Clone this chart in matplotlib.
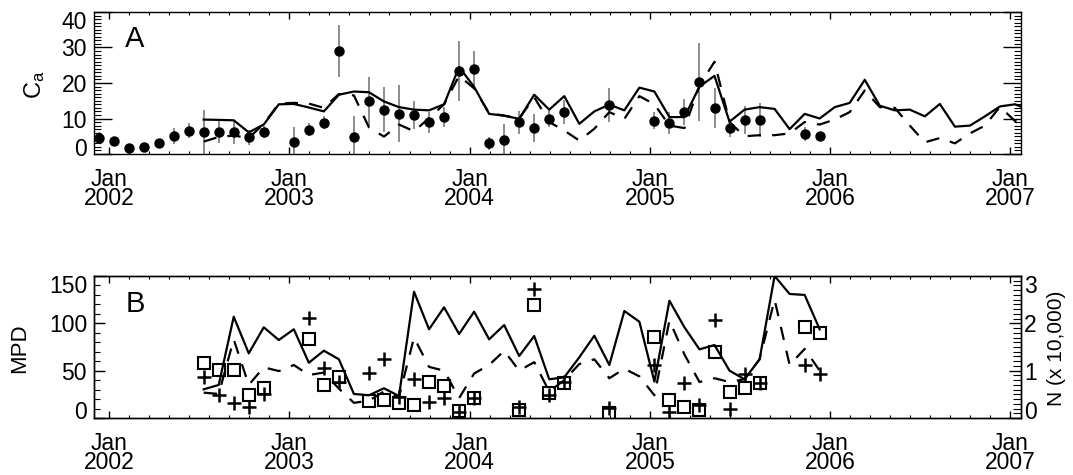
import matplotlib
matplotlib.use('Agg')
import matplotlib.pyplot as plt
from matplotlib.ticker import MultipleLocator, FixedLocator
from matplotlib.transforms import ScaledTranslation

plt.rcParams['font.family'] = ['Liberation Sans', 'DejaVu Sans']
plt.rcParams['mathtext.default'] = 'regular'

# months are counted from Jan 2002 (0 = Jan 2002)
tick_years = ['2002', '2003', '2004', '2005', '2006', '2007']

# Panel A: model curves and observed C_a
model_months = list(range(6, 62))
ca_solid = [9.7, 9.6, 9.5, 6.1, 8.3, 14.0, 14.1, 13.1, 12.0, 16.7, 17.6, 17.4, 14.8, 13.2,
            12.5, 12.3, 14.0, 24.5, 18.9, 11.3, 10.8, 9.9, 16.7, 12.5, 16.3, 8.5, 12.0, 13.9,
            12.3, 18.7, 17.6, 10.4, 10.4, 19.0, 22.0, 9.1, 12.5, 13.2, 12.7, 7.0, 11.3, 10.0,
            13.2, 14.4, 20.9, 13.6, 12.3, 12.5, 10.6, 14.1, 7.7, 8.0, 10.6, 13.4, 14.0, 12.3]
ca_dashed = [3.5, 4.8, 5.2, 4.5, 8.5, 14.2, 14.4, 14.2, 13.0, 16.9, 16.5, 7.5, 4.9, 8.3,
             6.4, 10.1, 14.0, 22.0, 18.5, 11.5, 10.8, 10.0, 16.0, 9.0, 6.6, 3.8, 7.1, 11.8,
             9.9, 16.3, 14.0, 8.0, 7.3, 19.3, 26.0, 9.0, 5.0, 5.3, 5.3, 5.8, 9.0, 8.3,
             9.7, 11.8, 17.9, 13.2, 13.0, 8.0, 3.3, 4.5, 3.0, 5.8, 8.0, 13.3, 9.3, 8.0]
obs_months = [-1, 0, 1, 2, 3, 4, 5, 6, 7, 8, 9, 10,
              12, 13, 14, 15, 16, 17, 18, 19, 20, 21, 22, 23, 24, 25, 26, 27, 28, 29, 30,
              33, 36, 37, 38, 39, 40, 41, 42, 43, 46, 47]
ca_obs = [4.5, 3.6, 1.7, 1.9, 3.2, 5.1, 6.6, 6.1, 6.3, 6.1, 4.7, 6.3,
          3.3, 6.9, 8.8, 29.0, 4.7, 14.8, 12.5, 11.4, 11.0, 8.9, 10.4, 23.3, 23.9, 3.0, 4.0,
          8.9, 7.4, 9.9, 11.8,
          13.7, 9.4, 8.8, 11.8, 20.3, 13.0, 7.3, 9.6, 9.6, 5.7, 5.2]
ca_err = [1.6, 0.5, 0, 0, 0.6, 2.3, 2.0, 6.2, 3.1, 3.3, 2.1, 1.7,
          4.2, 1.7, 1.8, 7.2, 5.9, 6.8, 6.4, 8.1, 4.0, 2.9, 2.8, 8.5, 5.2, 1.9, 4.5,
          3.3, 3.9, 2.4, 3.3,
          4.8, 2.4, 3.1, 3.6, 11.0, 5.7, 2.5, 4.0, 4.7, 2.0, 0.3]

# Panel B: MPD curves and N markers (x 10,000)
mpd_months = list(range(6, 48))
mpd_solid = [30.3, 34.9, 107, 68.3, 95.8, 82.4, 93.7, 58.4, 71.1, 62, 25.4, 24, 31.4, 23.2,
             133.4, 93.7, 116.9, 88.7, 112.3, 83.1, 98.2, 65.5, 86.6, 40.9, 43, 64.1, 86.9, 56,
             113, 101.7, 38.4, 123.9, 95.8, 72.5, 77.1, 50, 40.9, 62, 150, 131, 130, 93.7]
mpd_dashed = [26.8, 25.4, 83, 35, 53.5, 49.6, 56, 45.4, 48, 31, 16, 18.3, 28, 22.5,
              85, 54, 50, 21, 47, 56, 71, 50, 59, 28, 40, 57, 62, 42,
              52, 44, 24, 103, 67, 38, 42, 38, 41, 62, 125, 56, 73, 50]
n_months = [6, 7, 8, 9, 10, 13, 14, 15, 17, 18, 19, 20, 21, 22, 23, 24, 27, 28, 29, 30,
            33, 36, 37, 38, 39, 40, 41, 42, 43, 46, 47]
n_square = [1.16, 1.01, 1.01, 0.49, 0.63, 1.66, 0.70, 0.86, 0.35, 0.38, 0.31, 0.27, 0.77,
            0.68, 0.15, 0.42, 0.17, 2.39, 0.52, 0.73, 0.10, 1.72, 0.37, 0.23, 0.17, 1.39,
            0.54, 0.63, 0.73, 1.92, 1.80]
n_plus = [0.86, 0.49, 0.32, 0.23, 0.50, 2.11, 1.05, 0.77, 0.96, 1.24, 0.44, 0.83, 0.34,
          0.42, 0.13, 0.42, 0.24, 2.72, 0.49, 0.77, 0.22, 1.12, 0.13, 0.73, 0.27, 2.06,
          0.20, 0.94, 0.73, 1.12, 0.93]

MID = 0.3  # points sit near the middle of their month
FS = 16.5
LFS = 16


def xs(months):
    return [m + MID for m in months]


def setup_xaxis(ax):
    ax.set_xlim(-1, 60.7)
    ax.xaxis.set_major_locator(FixedLocator([12 * i for i in range(len(tick_years))]))
    ax.set_xticklabels(['Jan\n' + y for y in tick_years], fontsize=FS, linespacing=0.8)
    ax.xaxis.set_minor_locator(MultipleLocator(4 / 3))
    ax.tick_params(axis='x', which='both', direction='in', top=True, pad=10)
    ax.tick_params(axis='x', which='major', length=5, width=1)
    ax.tick_params(axis='x', which='minor', length=2.5, width=0.8)


def shift_end_labels(labels, up=5.2, down=5.6):
    # keep the end labels inside the axis height, as the original does
    fig = labels[0].figure
    lo = labels[0]
    lo.set_transform(lo.get_transform() + ScaledTranslation(0, up / 72, fig.dpi_scale_trans))
    hi = labels[-1]
    hi.set_transform(hi.get_transform() + ScaledTranslation(0, -down / 72, fig.dpi_scale_trans))


fig = plt.figure(figsize=(10.73, 4.75), dpi=100)
axA = fig.add_axes([94 / 1073, 1 - 154 / 475, 927 / 1073, 142 / 475])
axB = fig.add_axes([94 / 1073, 1 - 418 / 475, 927 / 1073, 142 / 475])

for ax in (axA, axB):
    for s in ax.spines.values():
        s.set_linewidth(1.0)

# ---- panel A
axA.errorbar(xs(obs_months), ca_obs, yerr=ca_err, fmt='none', ecolor='#6e6e6e',
             elinewidth=1.1, capsize=0, zorder=1)
axA.plot(xs(obs_months), ca_obs, 'o', color='black', markersize=6.5, zorder=3)
axA.plot(xs(model_months), ca_solid, '-', color='black', lw=1.6, zorder=2)
axA.plot(xs(model_months), ca_dashed, color='black', lw=1.6, dashes=(6, 5), zorder=2)
axA.set_ylim(0, 40)
axA.set_yticks([0, 10, 20, 30, 40])
axA.set_yticklabels(['0', '10', '20', '30', '40'], fontsize=FS)
axA.yaxis.set_minor_locator(MultipleLocator(1))
axA.tick_params(axis='y', which='both', direction='in', right=True, pad=5)
axA.tick_params(axis='y', which='major', length=13, width=1)
axA.tick_params(axis='y', which='minor', length=5, width=0.8)
shift_end_labels(axA.get_yticklabels())
setup_xaxis(axA)
axA.set_ylabel('C$_a$', fontsize=LFS + 1)
axA.yaxis.set_label_coords(-0.051, 0.49)
axA.text(0.033, 0.754, 'A', transform=axA.transAxes, fontsize=21, va='baseline')

# ---- panel B
axB.plot(xs(mpd_months), mpd_solid, '-', color='black', lw=1.6, zorder=2)
axB.plot(xs(mpd_months), mpd_dashed, color='black', lw=1.6, dashes=(6, 5), zorder=2)
axB.set_ylim(0, 150)
axB.set_yticks([0, 50, 100, 150])
axB.set_yticklabels(['0', '50', '100', '150'], fontsize=FS)
axB.yaxis.set_minor_locator(MultipleLocator(10))
axB.tick_params(axis='y', which='both', direction='in', pad=5)
axB.tick_params(axis='y', which='major', length=8, width=1)
axB.tick_params(axis='y', which='minor', length=4, width=0.8)
shift_end_labels(axB.get_yticklabels(), up=6, down=6)
setup_xaxis(axB)
axB.set_ylabel('MPD', fontsize=LFS)
axB.yaxis.set_label_coords(-0.069, 0.49)
axB.text(0.034, 0.746, 'B', transform=axB.transAxes, fontsize=21, va='baseline')

axN = axB.twinx()
axN.set_ylim(0, 3)
axN.plot(xs(n_months), n_square, 's', mfc='none', mec='black', mew=1.5, markersize=8, zorder=3)
axN.plot(xs(n_months), n_plus, '+', color='black', mew=1.8, markersize=9.5, zorder=3)
axN.set_yticks([0, 1, 2, 3])
axN.set_yticklabels(['0', '1', '2', '3'], fontsize=FS)
axN.yaxis.set_minor_locator(MultipleLocator(0.1))
axN.tick_params(axis='y', which='both', direction='in', pad=2)
axN.tick_params(axis='y', which='major', length=9, width=1)
axN.tick_params(axis='y', which='minor', length=6, width=0.8)
shift_end_labels(axN.get_yticklabels(), up=6, down=6)
axN.set_ylabel('N (x 10,000)', fontsize=LFS - 1)
axN.yaxis.set_label_coords(1.028, 0.49)
for s in axN.spines.values():
    s.set_linewidth(1.0)

fig.savefig('out.png', dpi=100)
